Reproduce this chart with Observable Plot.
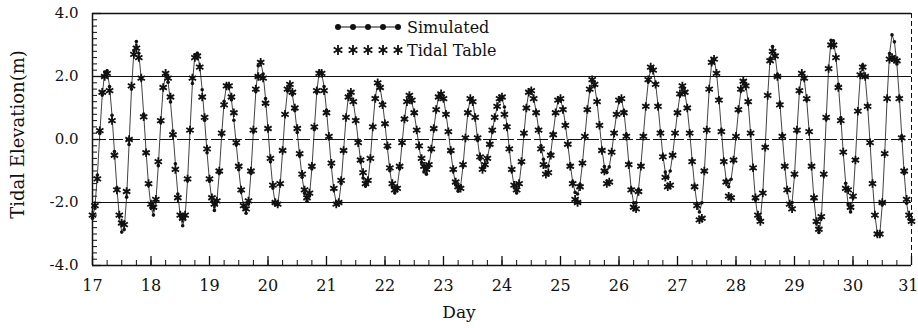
<!DOCTYPE html>
<html><head><meta charset="utf-8">
<script src="https://cdn.jsdelivr.net/npm/d3@7"></script>
<script src="https://cdn.jsdelivr.net/npm/@observablehq/plot@0.6"></script>
<style>
body{margin:0;background:#fff;}
#chart{position:relative;width:918px;height:328px;}
</style></head><body><div id="chart"></div>
<script>
// Hourly values, day 17 00:00 to day 31 00:00
const startDay = 17;
const simulated = [
-2.5,-2.13,-1.13,0.19,1.41,2.14,2.18,1.68,0.77,-0.38,-1.53,-2.44,-2.94,-2.86,-1.83,-0.16,1.6,2.82,3.11,2.74,1.91,0.8,-0.4,-1.45,
-2.16,-2.4,-1.95,-0.83,0.54,1.63,2.05,1.82,1.19,0.27,-0.77,-1.73,-2.43,-2.74,-2.44,-1.3,0.29,1.78,2.69,2.74,2.33,1.58,0.61,-0.42,
-1.32,-1.97,-2.25,-1.98,-1.07,0.14,1.21,1.73,1.65,1.26,0.61,-0.17,-0.96,-1.66,-2.14,-2.34,-2.05,-1.07,0.25,1.52,2.34,2.47,2.08,1.3,
0.31,-0.71,-1.54,-2.05,-2.07,-1.44,-0.36,0.79,1.55,1.68,1.42,0.92,0.22,-0.52,-1.2,-1.71,-1.96,-1.79,-0.93,0.32,1.49,2.15,2.12,1.68,
0.93,0.03,-0.87,-1.6,-2.01,-2,-1.4,-0.37,0.69,1.38,1.47,1.19,0.65,-0.03,-0.7,-1.22,-1.48,-1.34,-0.61,0.43,1.34,1.76,1.63,1.17,
0.49,-0.28,-0.99,-1.5,-1.7,-1.51,-0.93,-0.13,0.66,1.21,1.37,1.2,0.82,0.31,-0.24,-0.73,-1.03,-1.1,-0.86,-0.34,0.31,0.94,1.36,1.46,
1.28,0.84,0.25,-0.41,-1,-1.44,-1.64,-1.49,-0.85,0.05,0.87,1.29,1.19,0.68,-0.02,-0.63,-0.9,-0.82,-0.58,-0.2,0.24,0.68,1.03,1.26,
1.3,1.03,0.45,-0.29,-1,-1.51,-1.7,-1.44,-0.75,0.16,1.01,1.51,1.55,1.31,0.89,0.34,-0.2,-0.63,-0.87,-0.84,-0.44,0.2,0.83,1.23,
1.26,0.99,0.48,-0.15,-0.8,-1.34,-1.68,-1.73,-1.42,-0.76,0.08,0.92,1.55,1.83,1.7,1.19,0.46,-0.31,-0.86,-1.05,-0.87,-0.39,0.23,0.82,
1.21,1.28,0.91,0.16,-0.75,-1.56,-2.01,-2.01,-1.59,-0.81,0.13,1.07,1.83,2.22,2.2,1.79,1.09,0.26,-0.51,-1.03,-1.2,-1,-0.49,0.19,
0.87,1.4,1.63,1.49,0.99,0.23,-0.65,-1.47,-2.05,-2.3,-2.01,-1.02,0.31,1.59,2.42,2.55,2.12,1.3,0.3,-0.66,-1.3,-1.5,-1.26,-0.69,
0.09,0.9,1.54,1.86,1.77,1.16,0.18,-0.93,-1.92,-2.5,-2.52,-1.68,-0.21,1.39,2.58,2.95,2.69,2.06,1.16,0.14,-0.84,-1.61,-2.03,-2,
-1.14,0.24,1.51,2.1,1.91,1.25,0.27,-0.87,-1.91,-2.66,-2.95,-2.5,-1.14,0.64,2.27,3.15,3.13,2.62,1.75,0.69,-0.42,-1.39,-2.05,-2.3,
-1.86,-0.63,0.88,2.03,2.36,1.98,1.08,-0.11,-1.37,-2.39,-3.01,-3,-2.07,-0.47,1.32,2.73,3.32,3.1,2.4,1.35,0.11,-1.08,-2.02,-2.53,
-2.55
];
const tidalTable = [
-2.4,-2.1,-1.25,0.28,1.5,2.0,2.1,1.55,0.6,-0.5,-1.6,-2.4,-2.65,-2.7,-1.65,0,1.7,2.7,2.9,2.6,1.95,0.72,-0.42,-1.4,
-2.05,-2.15,-1.9,-0.7,0.6,1.65,2.1,1.95,1.35,0.15,-0.95,-1.85,-2.4,-2.5,-2.4,-1.25,0.3,1.95,2.6,2.65,2.3,1.35,0.7,-0.3,
-1.25,-1.85,-2.05,-1.95,-1,0.2,1.1,1.7,1.7,1.35,0.85,-0.1,-0.85,-1.6,-2.1,-2.2,-1.95,-1,0.3,1.6,2,2.45,1.95,1.15,
0.35,-0.6,-1.45,-2,-2.05,-1.4,-0.35,0.8,1.6,1.75,1.5,1,0.35,-0.45,-1.1,-1.6,-1.85,-1.7,-0.85,0.4,1.55,2.1,2.1,1.55,
0.85,0.1,-0.75,-1.55,-2.05,-2,-1.3,-0.35,0.7,1.35,1.5,1.2,0.6,-0.1,-0.65,-1.05,-1.4,-1.3,-0.6,0.4,1.3,1.8,1.65,1.1,
0.5,-0.2,-0.9,-1.4,-1.6,-1.55,-0.85,-0.1,0.65,1.2,1.4,1.25,0.85,0.3,-0.2,-0.6,-0.85,-0.95,-0.8,-0.3,0.35,0.95,1.35,1.45,
1.3,0.8,0.25,-0.35,-0.95,-1.35,-1.5,-1.55,-0.8,0.05,0.85,1.3,1.2,0.7,0.05,-0.55,-0.95,-0.8,-0.6,-0.15,0.3,0.7,1.05,1.3,
1.35,0.8,0.4,-0.3,-0.95,-1.45,-1.6,-1.4,-0.7,0.2,1,1.5,1.55,1.3,0.85,0.3,-0.3,-0.8,-1.1,-1.05,-0.5,0.15,0.85,1.25,
1.3,0.95,0.45,-0.15,-0.85,-1.4,-1.9,-2,-1.5,-0.75,0.1,0.95,1.6,1.9,1.75,1.2,0.45,-0.35,-1,-1.4,-1.35,-0.4,0.2,0.8,
1.25,1.3,0.85,0.1,-0.8,-1.6,-2.15,-2.2,-1.65,-0.85,0.1,1.05,1.9,2.3,2.2,1.75,1.05,0.2,-0.55,-1.2,-1.5,-1.45,-0.5,0.2,
0.85,1.45,1.7,1.5,1,0.2,-0.7,-1.5,-2.1,-2.55,-2.5,-1,0.3,1.6,2.45,2.55,2.1,1.25,0.25,-0.7,-1.35,-1.8,-1.85,-0.65,
0.1,0.95,1.6,1.85,1.7,1.2,0.2,-0.9,-1.85,-2.4,-2.6,-1.7,-0.25,1.4,2.5,2.8,2.65,2,1.1,0.1,-0.85,-1.6,-2.05,-2.2,
-1.1,0.3,1.55,2.1,1.95,1.3,0.25,-0.85,-1.85,-2.6,-2.85,-2.45,-1.1,0.7,2.25,3,3,2.6,1.65,0.6,-0.4,-1.55,-1.6,-2.15,
-1.8,-0.65,0.9,2.05,2.3,2,1.05,-0.1,-1.4,-2.4,-3,-3,-2,-0.45,1.3,2.55,2.6,2.55,2.5,1.3,0.05,-1,-1.9,-2.4,
-2.6
];
const xTicks = [17,18,19,20,21,22,23,24,25,26,27,28,29,30,31];
const yTicks = [-4,-2,0,2,4];
const yLabel = "Tidal Elevation(m)";
const xLabel = "Day";
const seriesNames = ["Simulated", "Tidal Table"];

const simRows = simulated.map((v, i) => ({t: startDay + i / 24, v}));
const tidalRows = tidalTable.map((v, i) => ({t: startDay + i / 24, v}));
const xMinor = d3.range(17, 31.001, 0.25);
const yMinor = d3.range(-4, 4.001, 0.2);

const W = 918, H = 328, mL = 92, mR = 7, mT = 13, mB = 63;
const pw = W - mL - mR, ph = H - mT - mB;
const ink = "#111";

const chart = Plot.plot({
  width: W, height: H,
  marginLeft: mL, marginRight: mR, marginTop: mT, marginBottom: mB,
  x: {domain: [17, 31]},
  y: {domain: [-4, 4]},
  style: {fontFamily: "'DejaVu Serif', serif", fontSize: "15px", color: ink, background: "#fff", overflow: "visible"},
  marks: [
    Plot.ruleY([2, -2], {stroke: ink, strokeWidth: 1}),
    Plot.ruleY([0], {stroke: ink, strokeWidth: 1, strokeDasharray: "14,3"}),
    Plot.ruleY([4, -4], {stroke: ink, strokeWidth: 1.5}),
    Plot.ruleX([17], {stroke: ink, strokeWidth: 1.5}),
    Plot.ruleX([31], {stroke: ink, strokeWidth: 1, strokeDasharray: "5,3"}),
    Plot.tickY(yMinor, {y: d => d, insetRight: pw - 5, stroke: ink}),
    Plot.tickY(yTicks, {y: d => d, insetRight: pw - 9, stroke: ink, strokeWidth: 1.3}),
    Plot.tickX(xMinor, {x: d => d, insetTop: ph - 5, stroke: ink}),
    Plot.tickX(xTicks, {x: d => d, insetTop: ph - 9, stroke: ink, strokeWidth: 1.3}),
    Plot.axisX(xTicks.slice(0, -1), {tickSize: 0, tickPadding: 14, tickFormat: d => String(d), label: null, fontSize: 16}),
    Plot.axisX(xTicks.slice(-1), {tickSize: 0, tickPadding: 14, tickFormat: d => String(d), label: null, fontSize: 16, textAnchor: "end", dx: 7}),
    Plot.axisY({ticks: yTicks, tickSize: 0, tickPadding: 14, tickFormat: d => d.toFixed(1), label: null, fontSize: 15}),
    Plot.line(simRows, {x: "t", y: "v", stroke: ink, strokeWidth: 0.8}),
    Plot.dot(simRows, {x: "t", y: "v", r: 1.8, fill: ink, stroke: null}),
    Plot.dot(tidalRows, {x: "t", y: "v", symbol: "asterisk", r: 4, stroke: ink, strokeWidth: 1.8}),
    Plot.text([yLabel], {frameAnchor: "left", textAnchor: "middle", dx: -74, dy: -5, rotate: -90, text: d => d, fontSize: 18}),
    Plot.text([xLabel], {frameAnchor: "bottom", textAnchor: "middle", dy: 52, dx: -43, text: d => d, fontSize: 17})
  ]
});
document.getElementById("chart").appendChild(chart);

// Legend (inside plot area, top)
const svg = d3.select(chart);
const lg = svg.append("g").attr("fill", ink).attr("stroke", ink).attr("text-anchor", "start");
const lx0 = 338, lstep = 15, lrows = [27, 50];
lg.append("line").attr("x1", lx0).attr("x2", lx0 + 4 * lstep).attr("y1", lrows[0]).attr("y2", lrows[0]).attr("stroke-width", 1);
for (let i = 0; i < 5; i++) {
  lg.append("circle").attr("cx", lx0 + i * lstep).attr("cy", lrows[0]).attr("r", 3).attr("fill", ink).attr("stroke", "none");
  lg.append("path").attr("d", d3.symbol(d3.symbolAsterisk, 70)()).attr("transform", `translate(${lx0 + i * lstep},${lrows[1]})`).attr("fill", "none").attr("stroke-width", 1.8);
}
seriesNames.forEach((name, i) => {
  lg.append("text").attr("x", 407).attr("y", lrows[i] + 6).attr("stroke", "none").attr("text-anchor", "start")
    .attr("font-family", "'DejaVu Serif', serif").attr("font-size", 16).text(name);
});
</script>
</body></html>
